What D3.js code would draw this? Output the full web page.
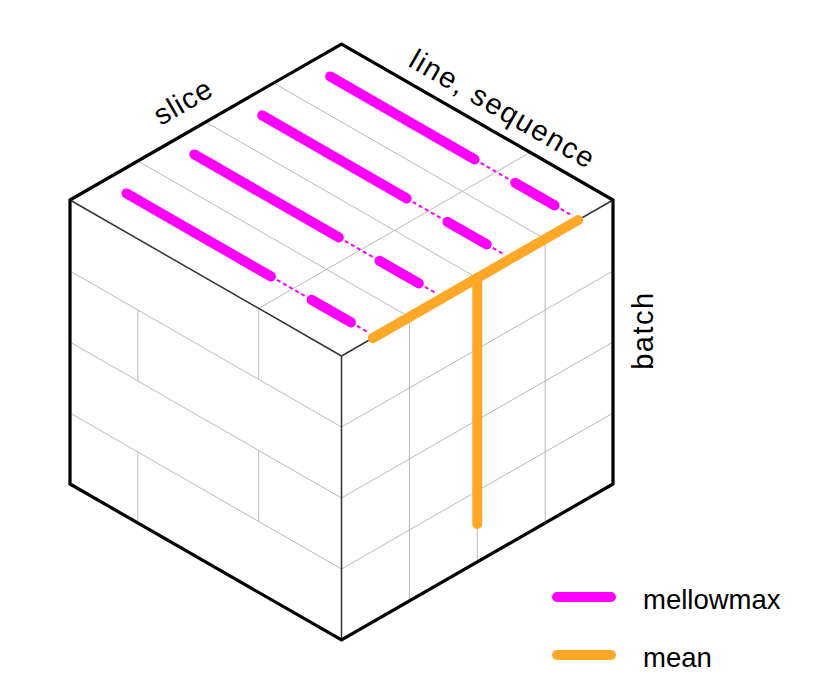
<!DOCTYPE html>
<html>
<head>
<meta charset="utf-8">
<script src="https://cdn.jsdelivr.net/npm/d3@7"></script>
<style>
	body { margin: 0; background: #fff; }
	text { font-family: "Liberation Sans", Arial, Helvetica, sans-serif; fill: #000; }
</style>
</head>
<body>
<script>
// splits of the cube, as fractions of each edge
let sliceSplits = [0.25, 0.5, 0.75]
let batchSplits = [0.25, 0.5, 0.75]
let lineSplitsByBatch = [0.695, 0.25, 0.695, 0.25]

// reductions drawn on the cube
let mellowSlices = [0.125, 0.375, 0.625, 0.875]
let mellowSolid = [[0.083, 0.615], [0.765, 0.91]]
let mellowDotted = [[0.615, 0.765], [0.91, 0.97]]
let meanSliceRange = [0.115, 0.872]
let meanBatchRange = [0, 0.866]
let meanBatchAtSlice = 0.5

let axisLabels = ['slice', 'line, sequence', 'batch']
let legendLabels = ['mellowmax', 'mean']
let legendColors = ['#ff00ff', '#ffa726']

let width = 821, height = 697
let ox = 70, oy = 200

// iso projection: u = slice, v = line/sequence, w = batch
let sx = d3.scaleLinear().domain([0, 1]).range([0, 271.5])
let sy = d3.scaleLinear().domain([0, 1]).range([0, 156])
let sz = d3.scaleLinear().domain([0, 1]).range([0, 284])

let project = function(u, v, w) {
	return [ox + sx(u) + sx(v), oy - sy(u) + sy(v) + sz(w)]
}

let line = d3.line()

let svg = d3.select('body').append('svg')
	.attr('width', width).attr('height', height)

let seg = function(g, a, b, stroke, sw, extra) {
	let p = g.append('path')
		.attr('d', line([project(...a), project(...b)]))
		.attr('stroke', stroke).attr('stroke-width', sw)
		.attr('fill', 'none')
	if (extra) extra(p)
	return p
}

// faces
let faces = svg.append('g')
faces.append('path')
	.attr('d', line([project(0,0,0), project(1,0,0), project(1,1,0), project(0,1,0)]) + 'Z')
	.attr('fill', '#fff')

// grid
let grid = svg.append('g')
let gridColor = '#bababa'
// top face
for (let u of sliceSplits) seg(grid, [u, 0, 0], [u, 1, 0], gridColor, 1)
seg(grid, [0, lineSplitsByBatch[0], 0], [1, lineSplitsByBatch[0], 0], gridColor, 1)
// right face
for (let u of sliceSplits) seg(grid, [u, 1, 0], [u, 1, 1], gridColor, 1)
for (let w of batchSplits) seg(grid, [0, 1, w], [1, 1, w], gridColor, 1)
// left face
for (let w of batchSplits) seg(grid, [0, 0, w], [0, 1, w], gridColor, 1)
let bounds = [0, ...batchSplits, 1]
lineSplitsByBatch.forEach((v, i) => {
	seg(grid, [0, v, bounds[i]], [0, v, bounds[i + 1]], gridColor, 1)
})

// inner edges
let inner = svg.append('g')
seg(inner, [0, 0, 0], [0, 1, 0], '#333', 1.5)
seg(inner, [0, 1, 0], [1, 1, 0], '#333', 1.5)
seg(inner, [0, 1, 0], [0, 1, 1], '#333', 1.5)

// outline
svg.append('path')
	.attr('d', line([project(0,0,0), project(1,0,0), project(1,1,0), project(1,1,1),
		project(0,1,1), project(0,0,1)]) + 'Z')
	.attr('fill', 'none').attr('stroke', '#000').attr('stroke-width', 3.2)
	.attr('stroke-linejoin', 'miter')

// mellowmax along the sequence
let mm = svg.append('g')
for (let u of mellowSlices) {
	for (let r of mellowDotted) {
		seg(mm, [u, r[0], 0], [u, r[1], 0], legendColors[0], 2,
			p => p.attr('stroke-dasharray', '4,3'))
	}
	for (let r of mellowSolid) {
		seg(mm, [u, r[0], 0], [u, r[1], 0], legendColors[0], 10,
			p => p.attr('stroke-linecap', 'round'))
	}
}

// mean over slice and batch
let mean = svg.append('g')
seg(mean, [meanBatchAtSlice, 1, meanBatchRange[0]], [meanBatchAtSlice, 1, meanBatchRange[1]],
	legendColors[1], 10, p => p.attr('stroke-linecap', 'round'))
seg(mean, [meanSliceRange[0], 1, 0], [meanSliceRange[1], 1, 0],
	legendColors[1], 10, p => p.attr('stroke-linecap', 'round'))

// axis labels
let angle = Math.atan2(sy(1), sx(1)) * 180 / Math.PI
let a = angle * Math.PI / 180
let label = function(text, x, y, rot, ls) {
	svg.append('text')
		.attr('transform', `translate(${x},${y}) rotate(${rot})`)
		.attr('text-anchor', 'middle')
		.attr('font-size', 29)
		.attr('letter-spacing', ls)
		.text(text)
}
let p0 = project(0.47, 0, 0)
label(axisLabels[0], p0[0] - Math.sin(a) * 19, p0[1] - Math.cos(a) * 19, -angle, 1)
let p1 = project(1, 0.55, 0)
label(axisLabels[1], p1[0] + Math.sin(a) * 14, p1[1] - Math.cos(a) * 14, angle, 1.6)
let p2 = project(1, 1, 0.46)
label(axisLabels[2], p2[0] + 40, p2[1], -90, 1.5)

// legend
let ly = d3.scaleBand().domain(legendLabels).range([568, 684])
let legend = svg.append('g')
legendLabels.forEach((name, i) => {
	let y = ly(name) + ly.bandwidth() / 2
	legend.append('line')
		.attr('x1', 557).attr('x2', 611)
		.attr('y1', y).attr('y2', y)
		.attr('stroke', legendColors[i]).attr('stroke-width', 10)
		.attr('stroke-linecap', 'round')
	legend.append('text')
		.attr('x', 643).attr('y', y + 12)
		.attr('font-size', 27.5)
		.text(name)
})
</script>
</body>
</html>
